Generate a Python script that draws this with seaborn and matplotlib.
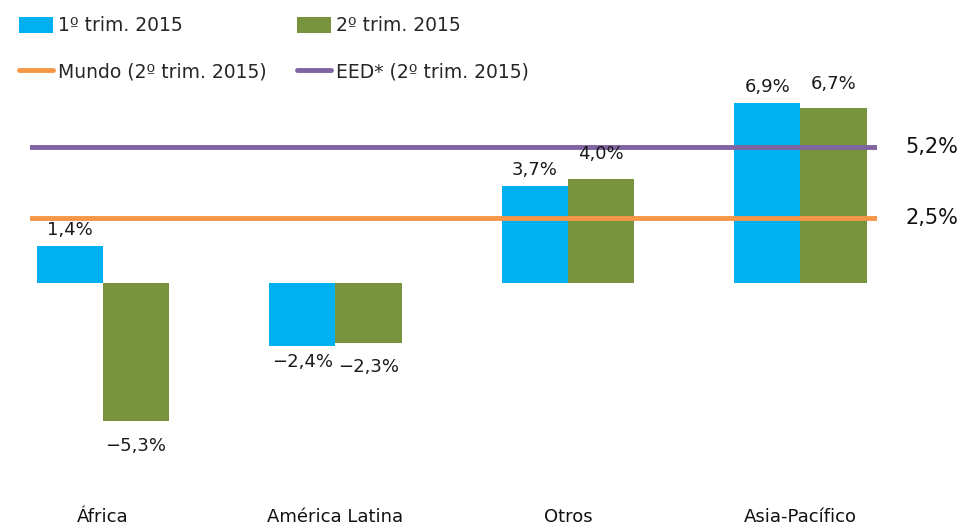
import matplotlib
matplotlib.use("Agg")
import pandas as pd
from matplotlib import pyplot as plt
from matplotlib.patches import Patch
from matplotlib.lines import Line2D
import seaborn as sns

regions = ["África", "América Latina", "Otros", "Asia-Pacífico"]
q1_values = [1.4, -2.4, 3.7, 6.9]
q2_values = [-5.3, -2.3, 4.0, 6.7]
series_names = ["1º trim. 2015", "2º trim. 2015"]
world_value = 2.5
eed_value = 5.2
line_names = ["Mundo (2º trim. 2015)", "EED* (2º trim. 2015)"]

BLUE = "#00B0F0"
GREEN = "#77933C"
ORANGE = "#F79646"
PURPLE = "#8064A2"


def fmt(v):
    return f"{v:.1f}%".replace(".", ",").replace("-", "\u2212")


def main():
    df = pd.DataFrame({
        "region": regions * 2,
        "valor": q1_values + q2_values,
        "periodo": [series_names[0]] * len(regions) + [series_names[1]] * len(regions),
    })

    sns.set_theme(style="white")
    plt.rcParams["font.family"] = ["DejaVu Sans"]

    fig = plt.figure(figsize=(9.6, 5.3), dpi=100)
    ax = fig.add_axes([0.03125, 0.1132, 0.8823, 0.717])

    sns.barplot(data=df, x="region", y="valor", hue="periodo",
                palette=[BLUE, GREEN], width=0.57, gap=0, saturation=1,
                legend=False, ax=ax)
    for p in ax.patches:
        p.set_edgecolor("none")

    ax.axhline(world_value, color=ORANGE, lw=3.5, zorder=3)
    ax.axhline(eed_value, color=PURPLE, lw=3.5, zorder=3)

    # green labels sit a little further from their bars in the original
    for cont, pad in zip(ax.containers, (5, 11)):
        labels = [fmt(v) for v in cont.datavalues]
        ax.bar_label(cont, labels=labels, padding=pad, fontsize=13, color="#1a1a1a")

    for val in (eed_value, world_value):
        ax.annotate(fmt(val), xy=(1, val), xycoords=("axes fraction", "data"),
                    xytext=(28, 0), textcoords="offset pixels",
                    va="center", ha="left", fontsize=15, color="#111111",
                    annotation_clip=False)

    ax.set_xlim(-0.314, 3.33)
    ax.set_ylim(-7.16, 7.39)
    ax.set_xlabel("")
    ax.set_ylabel("")
    ax.set_yticks([])
    ax.tick_params(axis="x", length=0, pad=27, labelsize=13, colors="#111111")
    for s in ax.spines.values():
        s.set_visible(False)

    handles = [
        Patch(facecolor=BLUE, edgecolor="none"),
        Line2D([], [], color=ORANGE, lw=3.5),
        Patch(facecolor=GREEN, edgecolor="none"),
        Line2D([], [], color=PURPLE, lw=3.5),
    ]
    names = [series_names[0], line_names[0], series_names[1], line_names[1]]
    fig.legend(handles, names, loc="upper left", bbox_to_anchor=(0.006, 0.994),
               ncol=2, frameon=False, fontsize=13.5, handlelength=1.8,
               handleheight=0.9, handletextpad=0.3, columnspacing=1.6,
               labelspacing=1.45, borderaxespad=0.3)

    plt.savefig("out.png", dpi=100)


if __name__ == "__main__":
    main()
